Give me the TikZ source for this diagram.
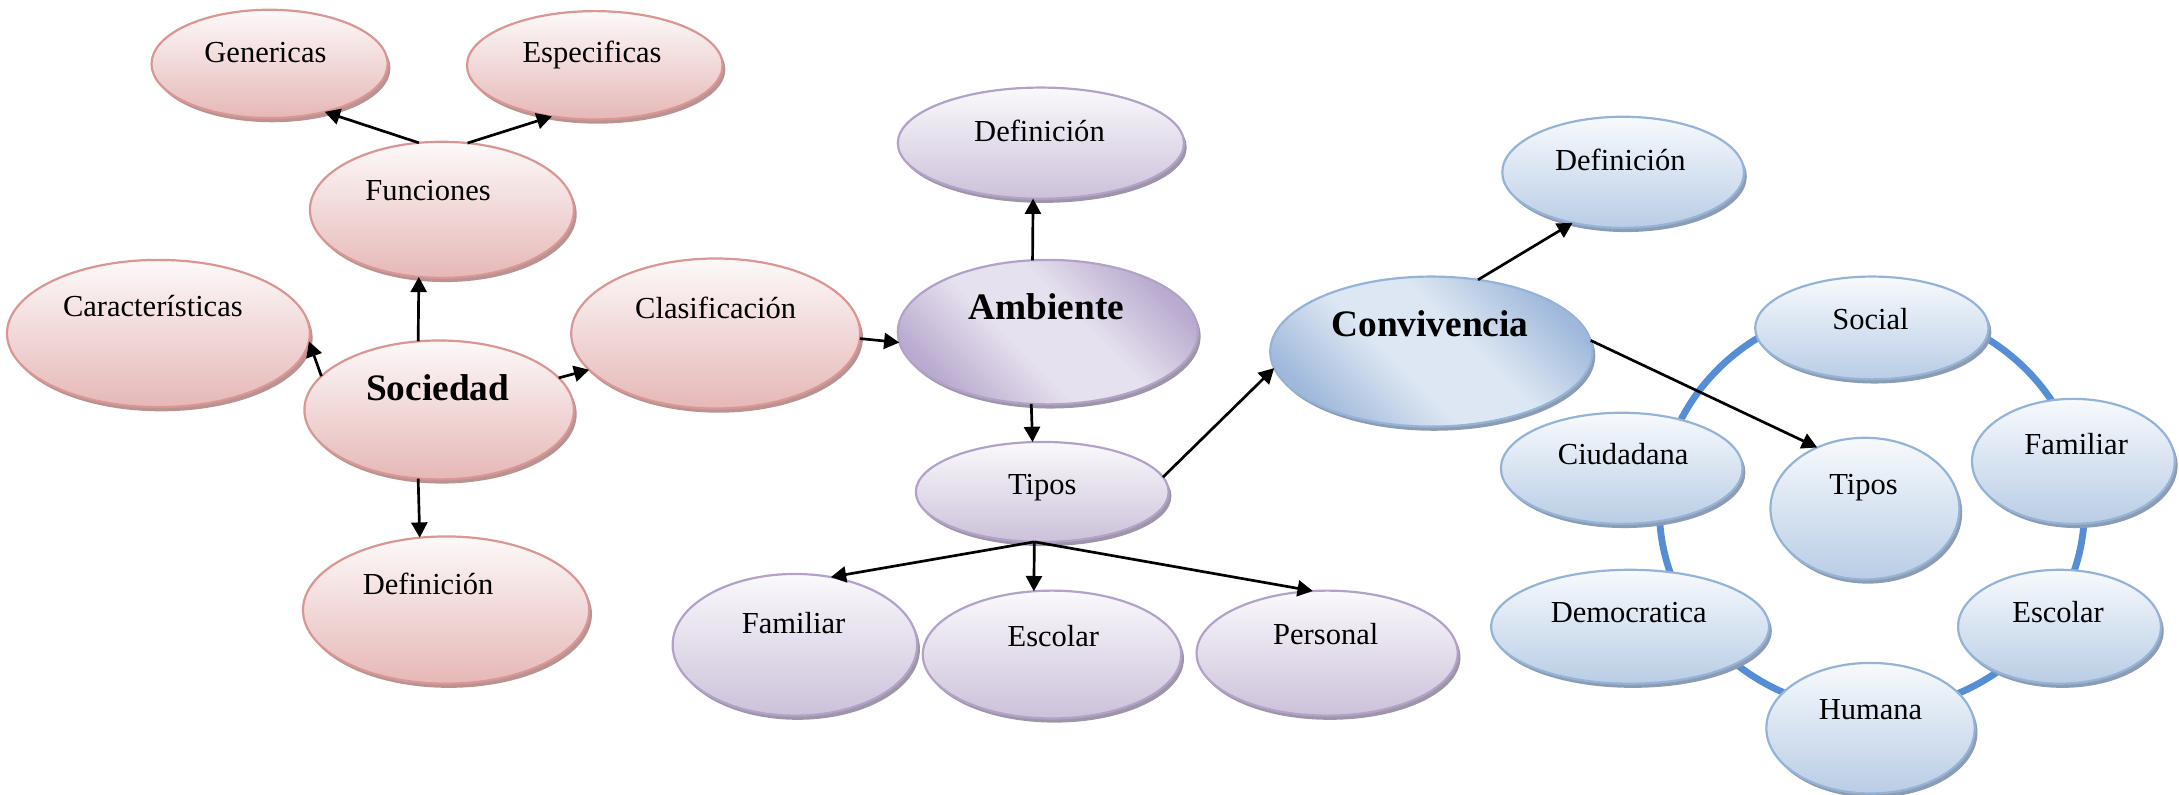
\documentclass[tikz,border=0pt]{standalone}
\usepackage{fontspec}
\setmainfont{Liberation Serif}
\usetikzlibrary{shapes.geometric,arrows.meta,shadows,backgrounds}
\definecolor{rbd}{HTML}{D99694}
\definecolor{rtop}{HTML}{FDF9F9}
\definecolor{rbot}{HTML}{E5B8B7}
\definecolor{rsh}{HTML}{B99392}
\definecolor{pbd}{HTML}{B3A2C7}
\definecolor{ptop}{HTML}{FAF9FC}
\definecolor{pbot}{HTML}{CCC1DA}
\definecolor{psh}{HTML}{9E96A8}
\definecolor{pdk}{HTML}{B9AACF}
\definecolor{plt}{HTML}{E6E1EE}
\definecolor{bbd}{HTML}{95B3D7}
\definecolor{btop}{HTML}{F7FAFD}
\definecolor{bbot}{HTML}{B9CDE5}
\definecolor{bsh}{HTML}{8C9DB3}
\definecolor{bdk}{HTML}{A0B9DB}
\definecolor{blt}{HTML}{DDE7F3}
\definecolor{ringc}{HTML}{558ED5}
\pgfdeclareverticalshading{ambsh}{100bp}{color(0bp)=(pdk); color(25bp)=(pdk); color(43bp)=(plt); color(57bp)=(plt); color(75bp)=(pdk); color(100bp)=(pdk)}
\pgfdeclareverticalshading{consh}{100bp}{color(0bp)=(bdk); color(25bp)=(bdk); color(43bp)=(blt); color(57bp)=(blt); color(75bp)=(bdk); color(100bp)=(bdk)}
\newcommand\mainlbl[1]{{\fontsize{15.3}{18}\selectfont\bfseries #1}}
% #1 style, #2 name, #3 cx, #4 cy (screen), #5 rx, #6 ry, #7 text x, #8 text y (screen), #9 text
\newcommand\bub[9]{%
  \node[#1, minimum width=#5*0.04cm, minimum height=#6*0.04cm] (#2) at (#3,572-#4) {};
  \node[txt] (#2-t) at (#7,565-#8) {#9};}
\tikzset{
  bubble/.style={ellipse, inner sep=0pt, outer sep=0pt, line width=0.9pt},
  redb/.style={bubble, draw=rbd, top color=rtop, bottom color=rbot,
    general shadow={shadow xshift=0.04cm, shadow yshift=-0.06cm, fill=rsh}},
  purb/.style={bubble, draw=pbd, top color=ptop, bottom color=pbot,
    general shadow={shadow xshift=0.04cm, shadow yshift=-0.06cm, fill=psh}},
  purx/.style={bubble, draw=pbd, shading=ambsh, shading angle=135,
    general shadow={shadow xshift=0.04cm, shadow yshift=-0.06cm, fill=psh}},
  blub/.style={bubble, draw=bbd, top color=btop, bottom color=bbot,
    general shadow={shadow xshift=0.04cm, shadow yshift=-0.06cm, fill=bsh}},
  blux/.style={bubble, draw=bbd, shading=consh, shading angle=135,
    general shadow={shadow xshift=0.04cm, shadow yshift=-0.06cm, fill=bsh}},
  txt/.style={font=\fontsize{12.5}{15}\selectfont, inner sep=0pt, anchor=base},
  arr/.style={line width=1.1pt, -{Triangle[length=0.22cm,width=0.23cm]}},
  ring/.style={line width=2.8pt, draw=ringc},
}
\begin{document}
\begin{tikzpicture}[x=0.02cm, y=0.02cm]
\useasboundingbox (0,0) rectangle (1568,572);
% Sociedad
\bub{redb}{gen}{194}{46}{85}{39}{191}{38}{Genericas}
\bub{redb}{esp}{428}{47}{92}{39}{426}{38}{Especificas}
\bub{redb}{fun}{318}{151}{95}{49}{308}{137}{Funciones}
\bub{redb}{car}{114}{240}{109}{53}{110}{221}{Características}
\bub{redb}{soc}{316}{295}{97}{50}{315}{281}{\mainlbl{Sociedad}}
\bub{redb}{cla}{515}{240}{104}{54}{515}{222}{Clasificación}
\bub{redb}{defr}{321}{439}{103}{53}{308}{421}{Definición}
% Ambiente
\bub{purb}{defa}{749}{103}{103}{40}{748}{95}{Definición}
\bub{purx}{amb}{754}{239}{108}{52}{753}{223}{\mainlbl{Ambiente}}
\bub{purb}{tip}{750}{354}{91}{36}{750}{349}{Tipos}
\bub{purb}{fam}{572}{464}{88}{51}{571}{449}{Familiar}
\bub{purb}{esc}{757}{471}{93}{46}{758}{458}{Escolar}
\bub{purb}{per}{955}{470}{94}{45}{954}{457}{Personal}
% Convivencia
\bub{blub}{defc}{1168}{124}{87}{40}{1166}{116}{Definición}
\bub{blux}{con}{1030}{253}{116}{54}{1029}{235}{\mainlbl{Convivencia}}
\bub{blub}{soci}{1347}{236}{84}{37}{1346}{230}{Social}
\bub{blub}{ciu}{1167}{337}{87}{40}{1168}{327}{Ciudadana}
\bub{blub}{tipc}{1342}{366}{68}{51}{1341}{349}{Tipos}
\bub{blub}{famc}{1492}{332}{73}{45}{1494}{320}{Familiar}
\bub{blub}{escc}{1482}{451}{73}{41}{1481}{441}{Escolar}
\bub{blub}{hum}{1346}{524}{75}{47}{1346}{511}{Humana}
\bub{blub}{dem}{1173}{451}{100}{41}{1172}{441}{Democratica}
% ring around Tipos
\begin{scope}[on background layer]
  \draw[ring] ([xshift=0.1cm]tipc.center) ellipse [x radius=3.06cm, y radius=2.91cm];
\end{scope}
% arrows
\draw[arr] (fun.109) -- (gen.-41);
\draw[arr] (fun.69) -- (esp.-130);
\draw[arr] (soc.107) -- (fun.-109);
\draw[arr] (soc.164.6) -- (car.-3.2);
\draw[arr] (soc.15.5) -- (cla.-164.7);
\draw[arr] (soc.-107) -- (defr.110.7);
\draw[arr] (cla.-2.75) -- (amb.-176.8);
\draw[arr] (amb.102) -- (defa.-98.5);
\draw[arr] (amb.-103) -- (tip.101);
\draw[arr] (tip.-99) -- (fam.62);
\draw[arr] (tip.-99) -- (esc.106);
\draw[arr] (tip.-99) -- (per.103);
\draw[arr] (tip.7) -- (con.-174);
\draw[arr] (con.57) -- (defc.-135.7);
\draw[arr] (con.4.5) -- (tipc.128);
\end{tikzpicture}
\end{document}
